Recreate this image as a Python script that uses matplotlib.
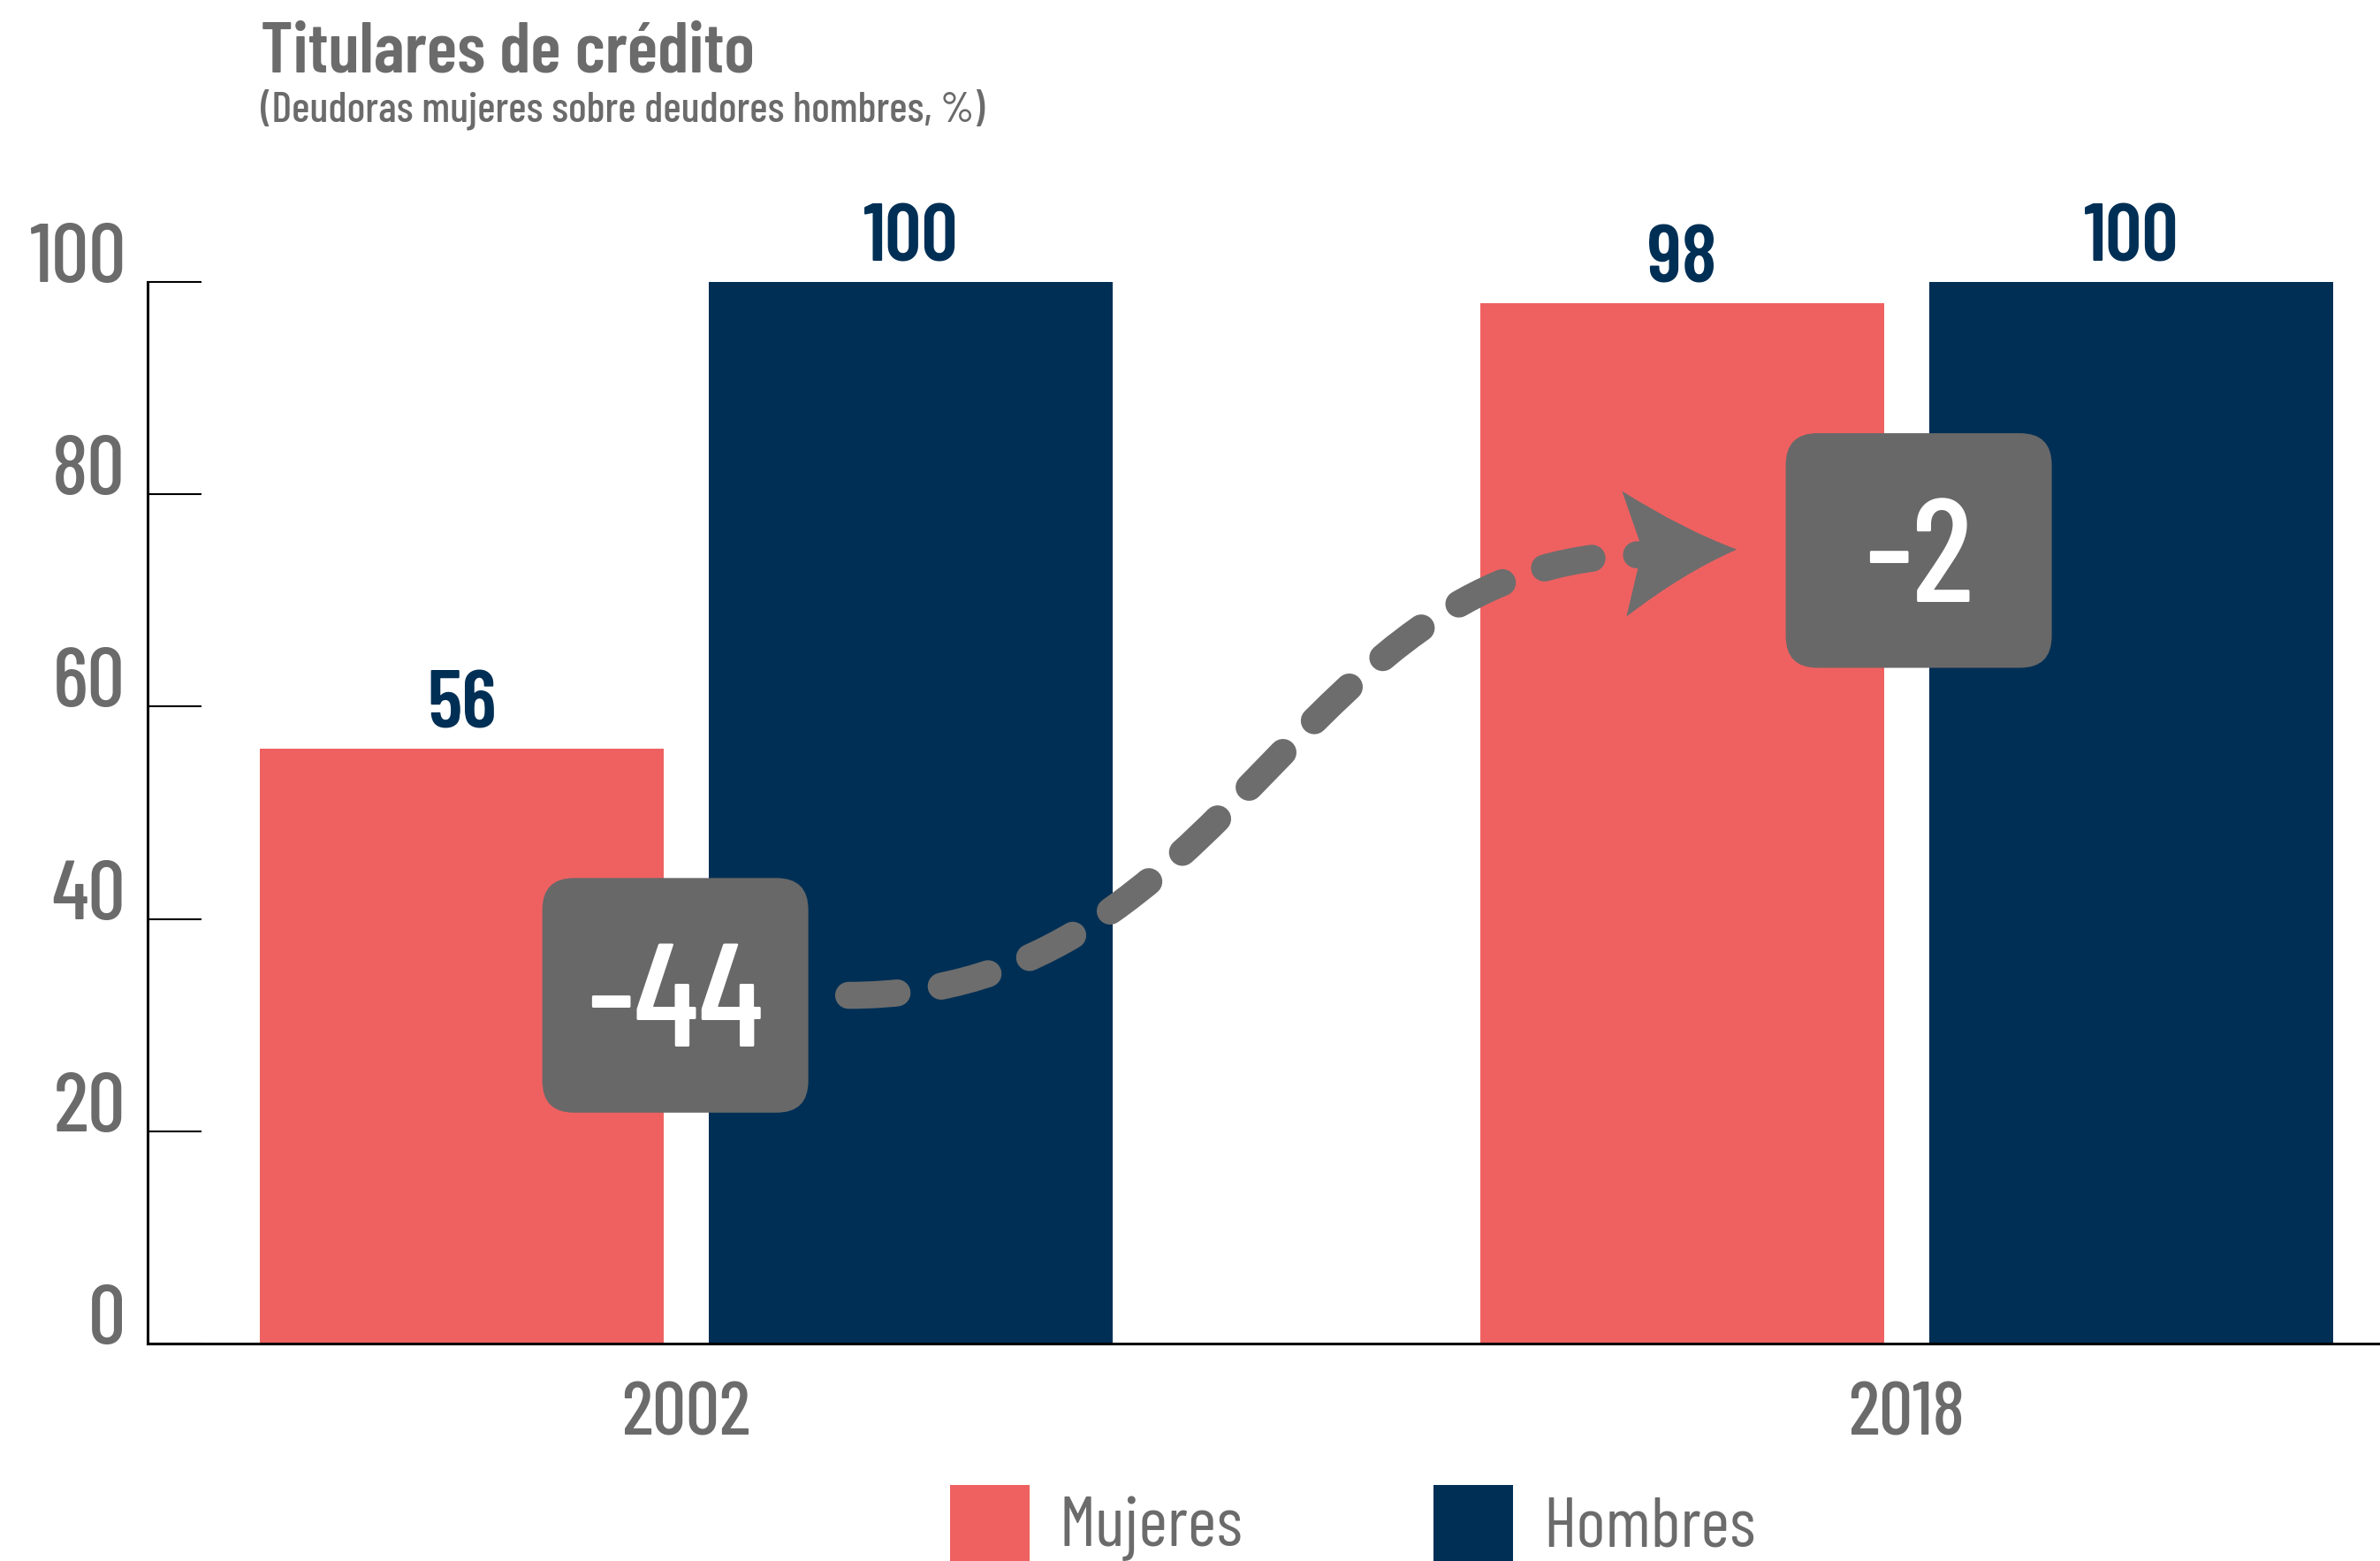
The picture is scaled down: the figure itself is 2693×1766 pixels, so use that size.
import numpy as np
import matplotlib
matplotlib.use('Agg')
from matplotlib import pyplot as plt
from matplotlib.patches import FancyBboxPatch, PathPatch
from matplotlib.path import Path
from matplotlib import transforms

years = ['2002', '2018']
mujeres = [56, 98]
hombres = [100, 100]
brechas = ['-44', '-2']
series_labels = ['Mujeres', 'Hombres']
yticks = [0, 20, 40, 60, 80, 100]

# where the gap boxes and the curved arrow sit (data units)
box_centers = [(-0.009, 32.8), (1.01, 74.7)]
curve_ctrl = [(0.133, 32.8), (0.45, 32.8), (0.50, 74.3), (0.785, 74.3)]
arrow_tip = (0.861, 74.8)

ROJO = '#ef6161'
AZUL = '#002f55'
GRIS = '#6b6b6b'
CAJA = '#686868'
FONT = 'Barlow Condensed'

plt.rcParams['font.family'] = [FONT, 'DejaVu Sans']

fig = plt.figure(figsize=(26.93, 17.66), dpi=100)
ax = fig.add_axes([0.0620, 0.1393, 0.938, 0.6801])

x = np.arange(len(years))
w = 0.331
off = 0.184
b1 = ax.bar(x - off, mujeres, w, color=ROJO, label=series_labels[0], zorder=2)
b2 = ax.bar(x + off, hombres, w, color=AZUL, label=series_labels[1], zorder=2)
for bars in (b1, b2):
    ax.bar_label(bars, padding=4, color=AZUL, fontsize=66, fontweight='semibold')

ax.set_xlim(-0.4415, 1.388)
ax.set_ylim(0, 100)
ax.set_yticks(yticks)
ax.set_xticks(x)
ax.set_xticklabels(years)
ax.tick_params(axis='y', direction='in', length=44, width=1.5, pad=18,
               labelsize=68, labelcolor=GRIS, color='black')
ax.tick_params(axis='x', length=0, pad=31, labelsize=61, labelcolor=GRIS)
for t in ax.get_yticklabels():
    t.set_va('baseline')
    t.set_fontweight('medium')
for t in ax.get_xticklabels():
    t.set_fontweight('medium')
ax.spines['top'].set_visible(False)
ax.spines['right'].set_visible(False)
ax.spines['left'].set_linewidth(2.2)
ax.spines['bottom'].set_linewidth(2.2)

# gap boxes (fixed size, rounded corners)
bw, bh = 0.218, 22.1
for (cx, cy), txt in zip(box_centers, brechas):
    box = FancyBboxPatch((cx - bw / 2, cy - bh / 2), bw, bh,
                         boxstyle='round,pad=0,rounding_size=0.026',
                         mutation_aspect=115, facecolor=CAJA,
                         edgecolor='none', zorder=4)
    ax.add_patch(box)
    ax.text(cx, cy, txt, ha='center', va='center_baseline', color='white',
            fontsize=120, fontweight='medium', zorder=5)

# dashed curve between the boxes
curve = Path(curve_ctrl, [Path.MOVETO, Path.CURVE4, Path.CURVE4, Path.CURVE4])
ax.add_patch(PathPatch(curve, fill=False, edgecolor='#6d6d6d', lw=22,
                       linestyle=(0, (1.8, 1.65)), capstyle='round', zorder=3))

# arrow head, drawn in inches around the tip
head = Path([(0, 0), (-0.60, 0.22), (-1.30, 0.66), (-1.07, 0.0),
             (-1.25, -0.76), (-0.60, -0.26), (0, 0), (0, 0)],
            [Path.MOVETO, Path.CURVE3, Path.CURVE3, Path.LINETO,
             Path.LINETO, Path.CURVE3, Path.CURVE3, Path.CLOSEPOLY])
tr = fig.dpi_scale_trans + transforms.ScaledTranslation(arrow_tip[0], arrow_tip[1], ax.transData)
ax.add_patch(PathPatch(head, transform=tr, facecolor='#6d6d6d', edgecolor='none', zorder=3))

fig.text(0.1095, 0.954, 'Titulares de crédito', fontsize=58, color=GRIS,
         fontweight='semibold', ha='left', va='baseline')
fig.text(0.1095, 0.922, '(Deudoras mujeres sobre deudores hombres, %)', fontsize=35,
         color=GRIS, fontweight='medium', ha='left', va='baseline')

ax.legend(handles=[b1, b2], labels=series_labels, loc='center left',
          bbox_to_anchor=(0.399, 0.0243), bbox_transform=fig.transFigure,
          ncol=2, frameon=False, fontsize=57, labelcolor=GRIS,
          handlelength=1.14, handleheight=1.3, handletextpad=0.43,
          columnspacing=2.72, borderpad=0, borderaxespad=0)

fig.savefig('out.png')
